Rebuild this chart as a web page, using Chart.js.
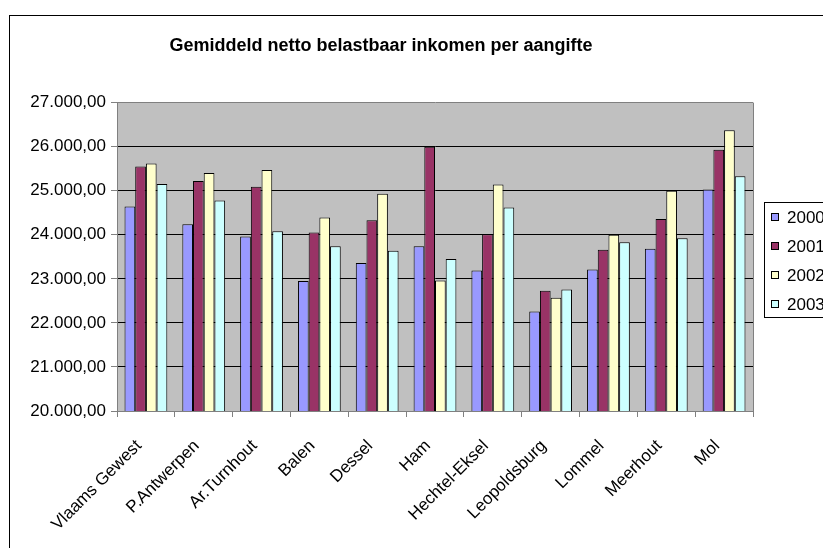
<!DOCTYPE html>
<html>
<head>
<meta charset="utf-8">
<script src="https://cdn.jsdelivr.net/npm/chart.js@4.4.1/dist/chart.umd.min.js"></script>
<style>
html,body{margin:0;padding:0;background:#fff;}
canvas{display:block;}
</style>
</head>
<body>
<canvas id="c" width="823" height="548"></canvas>
<script>
const categories = ["Vlaams Gewest","P.Antwerpen","Ar.Turnhout","Balen","Dessel","Ham","Hechtel-Eksel","Leopoldsburg","Lommel","Meerhout","Mol"];
const seriesNames = ["2000","2001","2002","2003"];
const values2000 = [24640, 24240, 23960, 22950, 23360, 23740, 23190, 22260, 23210, 23680, 25030];
const values2001 = [25550, 25220, 25090, 24050, 24330, 26000, 24010, 22730, 23660, 24360, 25930];
const values2002 = [25620, 25400, 25470, 24390, 24930, 22960, 25140, 22570, 24000, 25000, 26370];
const values2003 = [25150, 24780, 24080, 23740, 23640, 23450, 24620, 22760, 23830, 23920, 25330];
const yMin = 20000, yMax = 27000, yStep = 1000;
const titleText = "Gemiddeld netto belastbaar inkomen per aangifte";
const colors = ["#9999FF","#993366","#FFFFCC","#CCFFFF"];

function fmt(v){
  const s = Math.round(v).toString();
  const parts = [];
  for(let i = s.length; i > 0; i -= 3) parts.unshift(s.substring(Math.max(0,i-3), i));
  return parts.join(".") + ",00";
}

const allValues = [values2000, values2001, values2002, values2003];
const datasets = seriesNames.map((n,i)=>({
  label: n,
  data: allValues[i],
  backgroundColor: colors[i],
  borderColor: "#000",
  borderWidth: 1,
  borderSkipped: false,
  categoryPercentage: 0.74,
  barPercentage: 1.0
}));

const decor = {
  id: "decor",
  beforeDraw(chart){
    const {ctx, chartArea: a} = chart;
    ctx.save();
    ctx.fillStyle = "#fff";
    ctx.fillRect(0,0,chart.width,chart.height);
    ctx.fillStyle = "#C0C0C0";
    ctx.fillRect(a.left, a.top, a.right-a.left, a.bottom-a.top);
    ctx.restore();
  },
  afterDraw(chart){
    const {ctx, chartArea: a} = chart;
    ctx.save();
    ctx.strokeStyle = "#808080";
    ctx.lineWidth = 1;
    ctx.beginPath();
    ctx.moveTo(Math.round(a.right)+0.5, a.top);
    ctx.lineTo(Math.round(a.right)+0.5, a.bottom);
    ctx.stroke();
    ctx.strokeStyle = "#000";
    ctx.strokeRect(9.5, 15.5, 1000, 1000);
    const lx = 764, ly = 202, lw = 100, lh = 115;
    ctx.fillStyle = "#fff";
    ctx.fillRect(lx, ly, lw, lh);
    ctx.strokeStyle = "#000";
    ctx.strokeRect(lx+0.5, ly+0.5, lw, lh);
    ctx.font = "17px 'Liberation Sans', Arial, sans-serif";
    ctx.textBaseline = "middle";
    ctx.textAlign = "left";
    chart.data.datasets.forEach((d,i)=>{
      const cy = 217 + i*29;
      ctx.fillStyle = d.backgroundColor;
      ctx.fillRect(771, cy-4, 8, 8);
      ctx.strokeStyle = "#000";
      ctx.strokeRect(771.5, cy-3.5, 7, 7);
      ctx.fillStyle = "#000";
      ctx.fillText(d.label, 787, cy+1);
    });
    ctx.restore();
  }
};

new Chart(document.getElementById("c"), {
  type: "bar",
  data: { labels: categories, datasets },
  plugins: [decor],
  options: {
    responsive: false,
    animation: false,
    layout: { padding: { left: 9, right: 70, top: 15, bottom: 0 } },
    plugins: {
      legend: { display: false },
      tooltip: { enabled: false },
      title: {
        display: true,
        text: titleText,
        color: "#000",
        font: { family: "'Liberation Sans', Arial, sans-serif", size: 18, weight: "bold" },
        padding: { top: 20, bottom: 46 }
      }
    },
    scales: {
      x: {
        offset: true,
        grid: { display: true, drawOnChartArea: false, drawTicks: true, tickLength: 6, color: "#808080", offset: true },
        border: { display: true, color: "#808080" },
        ticks: {
          color: "#000",
          minRotation: 45, maxRotation: 45,
          padding: 19,
          labelOffset: -7,
          autoSkip: false,
          font: { family: "'Liberation Sans', Arial, sans-serif", size: 17 }
        },
        afterFit(s){ s.height = 137; }
      },
      y: {
        min: yMin, max: yMax,
        grid: {
          color: (c)=> (c.tick && c.tick.value === yMax) ? "#808080" : "#000",
          tickColor: "#808080",
          tickLength: 6,
          lineWidth: 1
        },
        border: { display: true, color: "#808080" },
        ticks: {
          stepSize: yStep,
          color: "#000",
          padding: 5,
          font: { family: "'Liberation Sans', Arial, sans-serif", size: 17 },
          callback: (v)=> fmt(v)
        },
        afterFit(s){ s.width = 108; }
      }
    }
  }
});
</script>
</body>
</html>
